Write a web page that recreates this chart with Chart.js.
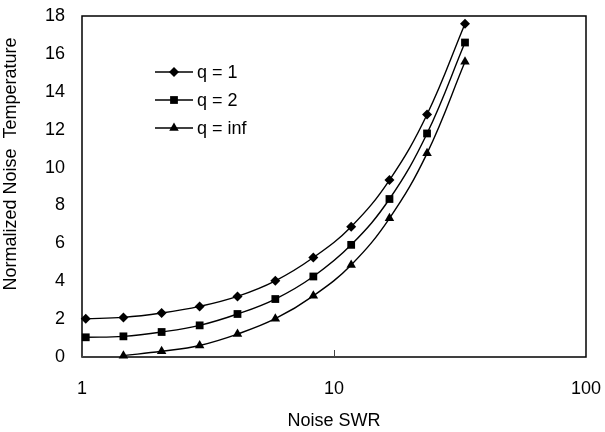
<!DOCTYPE html>
<html>
<head>
<meta charset="utf-8">
<script src="https://cdn.jsdelivr.net/npm/chart.js@4/dist/chart.umd.min.js"></script>
<style>
html,body{margin:0;padding:0;background:#fff;}
#wrap{width:605px;height:432px;position:relative;}
</style>
</head>
<body>
<div id="wrap"><canvas id="c"></canvas></div>
<script>
const swr = [1.035, 1.46, 2.07, 2.93, 4.14, 5.85, 8.28, 11.7, 16.6, 23.4, 33.1];
const swrInf = [1.46, 2.07, 2.93, 4.14, 5.85, 8.28, 11.7, 16.6, 23.4, 33.1];
const q1 = [2.02, 2.09, 2.32, 2.67, 3.20, 4.02, 5.25, 6.88, 9.34, 12.80, 17.59];
const q2 = [1.04, 1.09, 1.32, 1.67, 2.27, 3.06, 4.25, 5.92, 8.34, 11.80, 16.60];
const qInf = [0.07, 0.30, 0.61, 1.21, 2.02, 3.23, 4.86, 7.32, 10.75, 15.58];
const seriesLabels = ['q = 1', 'q = 2', 'q = inf'];
const xTicks = [1, 10, 100];
const yTicks = [0, 2, 4, 6, 8, 10, 12, 14, 16, 18];

const FONT = "'Liberation Sans', Arial, sans-serif";
const FS = 18;

function pts(xs, ys){ return xs.map((x,i)=>({x:x, y:ys[i]})); }

const styles = ['rectRot', 'rect', 'triangle'];
const radii = [5, 5.5, 5.5];

const datasets = [
  {label: seriesLabels[0], data: pts(swr, q1)},
  {label: seriesLabels[1], data: pts(swr, q2)},
  {label: seriesLabels[2], data: pts(swrInf, qInf)}
].map((d,i)=>Object.assign(d, {
  showLine: true,
  borderColor: '#000',
  backgroundColor: '#000',
  borderWidth: 1.4,
  pointStyle: styles[i],
  pointRadius: radii[i],
  pointBorderWidth: 0,
  pointBackgroundColor: '#000',
  tension: 0.4,
  clip: false
}));

const framePlugin = {
  id: 'frame',
  afterDatasetsDraw(chart){
    const {ctx, chartArea:a, scales} = chart;
    ctx.save();
    ctx.strokeStyle = '#000';
    ctx.lineWidth = 1.5;
    ctx.strokeRect(a.left, a.top, a.right - a.left, a.bottom - a.top);
    ctx.lineWidth = 1;
    ctx.strokeStyle = '#444';
    ctx.beginPath();
    scales.x.ticks.forEach(t=>{
      const px = Math.round(scales.x.getPixelForValue(t.value)) + 0.5;
      ctx.moveTo(px, a.bottom);
      ctx.lineTo(px, a.bottom - 7);
    });
    ctx.stroke();
    ctx.restore();
  }
};

const legendPlugin = {
  id: 'innerLegend',
  afterDraw(chart){
    const ctx = chart.ctx;
    const x0 = 155, x1 = 193, xm = 174, xt = 197;
    const ys = [72, 100, 128];
    ctx.save();
    chart.data.datasets.forEach((ds, i)=>{
      const y = ys[i];
      ctx.strokeStyle = '#000';
      ctx.lineWidth = 1.4;
      ctx.beginPath();
      ctx.moveTo(x0, y); ctx.lineTo(x1, y);
      ctx.stroke();
      ctx.fillStyle = '#000';
      Chart.helpers.drawPoint(ctx, {pointStyle: ds.pointStyle, radius: ds.pointRadius, borderWidth: 0}, xm, y);
      ctx.font = FS + 'px ' + FONT;
      ctx.textBaseline = 'middle';
      ctx.textAlign = 'left';
      ctx.fillText(ds.label, xt, y + 1);
    });
    ctx.restore();
  }
};

new Chart(document.getElementById('c'), {
  type: 'scatter',
  data: {datasets},
  plugins: [framePlugin, legendPlugin],
  options: {
    responsive: true,
    maintainAspectRatio: false,
    animation: false,
    devicePixelRatio: 1,
    layout: {padding: {top: 16, right: 19, left: 0, bottom: 0}},
    plugins: {legend: {display: false}, tooltip: {enabled: false}},
    scales: {
      x: {
        type: 'logarithmic', min: 1, max: 100, position: 'bottom',
        afterBuildTicks: s => { s.ticks = xTicks.map(v=>({value: v})); },
        afterFit: s => { s.height = 75; s.paddingLeft = 0; s.paddingRight = 0; },
        grid: {display: false, drawTicks: false},
        border: {display: false},
        ticks: {color: '#000', font: {family: FONT, size: FS}, padding: 21, maxRotation: 0, autoSkip: false,
                callback: v => String(v)},
        title: {display: true, text: 'Noise SWR', color: '#000', font: {family: FONT, size: FS}, padding: {top: 0, bottom: 0}}
      },
      y: {
        type: 'linear', min: 0, max: 18,
        afterBuildTicks: s => { s.ticks = yTicks.map(v=>({value: v})); },
        afterFit: s => { s.width = 82; s.paddingTop = 0; s.paddingBottom = 0; },
        grid: {display: false, drawTicks: false},
        border: {display: false},
        ticks: {color: '#000', font: {family: FONT, size: FS}, padding: 17, callback: v => String(v)},
        title: {display: true, text: '         Normalized Noise  Temperature', color: '#000', font: {family: FONT, size: FS}, padding: {top: 0, bottom: 9}}
      }
    }
  }
});
</script>
</body>
</html>
